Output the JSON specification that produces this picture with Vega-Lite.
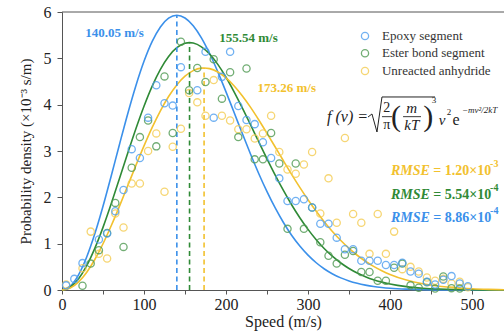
{
  "$schema": "https://vega.github.io/schema/vega-lite/v6.json",
  "width": 442,
  "height": 278,
  "autosize": {"type": "none"},
  "padding": {"left": 62, "top": 12, "right": 0, "bottom": 44},
  "background": "white",
  "config": {"view": {"stroke": null}, "font": "Liberation Serif"},
  "datasets": {
    "fit": [
      {"s":"Epoxy segment","v":0,"f":0},{"s":"Epoxy segment","v":10,"f":0.082},{"s":"Epoxy segment","v":20,"f":0.322},{"s":"Epoxy segment","v":30,"f":0.706},{"s":"Epoxy segment","v":40,"f":1.212},{"s":"Epoxy segment","v":50,"f":1.808},{"s":"Epoxy segment","v":60,"f":2.462},{"s":"Epoxy segment","v":70,"f":3.136},{"s":"Epoxy segment","v":80,"f":3.795},{"s":"Epoxy segment","v":90,"f":4.404},{"s":"Epoxy segment","v":100,"f":4.935},{"s":"Epoxy segment","v":110,"f":5.365},{"s":"Epoxy segment","v":120,"f":5.678},{"s":"Epoxy segment","v":130,"f":5.866},{"s":"Epoxy segment","v":140.05,"f":5.929},{"s":"Epoxy segment","v":150,"f":5.871},{"s":"Epoxy segment","v":160,"f":5.703},{"s":"Epoxy segment","v":170,"f":5.442},{"s":"Epoxy segment","v":180,"f":5.104},{"s":"Epoxy segment","v":190,"f":4.709},{"s":"Epoxy segment","v":200,"f":4.277},{"s":"Epoxy segment","v":210,"f":3.825},{"s":"Epoxy segment","v":220,"f":3.372},{"s":"Epoxy segment","v":230,"f":2.93},{"s":"Epoxy segment","v":240,"f":2.51},{"s":"Epoxy segment","v":250,"f":2.122},{"s":"Epoxy segment","v":260,"f":1.77},{"s":"Epoxy segment","v":270,"f":1.457},{"s":"Epoxy segment","v":280,"f":1.183},{"s":"Epoxy segment","v":290,"f":0.949},{"s":"Epoxy segment","v":300,"f":0.752},{"s":"Epoxy segment","v":310,"f":0.588},{"s":"Epoxy segment","v":320,"f":0.454},{"s":"Epoxy segment","v":330,"f":0.347},{"s":"Epoxy segment","v":340,"f":0.262},{"s":"Epoxy segment","v":350,"f":0.195},{"s":"Epoxy segment","v":360,"f":0.144},{"s":"Epoxy segment","v":370,"f":0.105},{"s":"Epoxy segment","v":380,"f":0.075},{"s":"Epoxy segment","v":390,"f":0.054},{"s":"Epoxy segment","v":400,"f":0.038},{"s":"Epoxy segment","v":420,"f":0.018},{"s":"Epoxy segment","v":440,"f":0.008},{"s":"Epoxy segment","v":470,"f":0.002},{"s":"Epoxy segment","v":500,"f":0.0005},{"s":"Epoxy segment","v":539,"f":0},
      {"s":"Ester bond segment","v":0,"f":0},{"s":"Ester bond segment","v":10,"f":0.06},{"s":"Ester bond segment","v":20,"f":0.236},{"s":"Ester bond segment","v":30,"f":0.52},{"s":"Ester bond segment","v":40,"f":0.898},{"s":"Ester bond segment","v":50,"f":1.352},{"s":"Ester bond segment","v":60,"f":1.861},{"s":"Ester bond segment","v":70,"f":2.4},{"s":"Ester bond segment","v":80,"f":2.946},{"s":"Ester bond segment","v":90,"f":3.476},{"s":"Ester bond segment","v":100,"f":3.967},{"s":"Ester bond segment","v":110,"f":4.401},{"s":"Ester bond segment","v":120,"f":4.763},{"s":"Ester bond segment","v":130,"f":5.041},{"s":"Ester bond segment","v":140,"f":5.229},{"s":"Ester bond segment","v":150,"f":5.324},{"s":"Ester bond segment","v":155.54,"f":5.338},{"s":"Ester bond segment","v":160,"f":5.329},{"s":"Ester bond segment","v":170,"f":5.249},{"s":"Ester bond segment","v":180,"f":5.092},{"s":"Ester bond segment","v":190,"f":4.869},{"s":"Ester bond segment","v":200,"f":4.592},{"s":"Ester bond segment","v":210,"f":4.273},{"s":"Ester bond segment","v":220,"f":3.926},{"s":"Ester bond segment","v":230,"f":3.563},{"s":"Ester bond segment","v":240,"f":3.195},{"s":"Ester bond segment","v":250,"f":2.831},{"s":"Ester bond segment","v":260,"f":2.48},{"s":"Ester bond segment","v":270,"f":2.148},{"s":"Ester bond segment","v":280,"f":1.84},{"s":"Ester bond segment","v":290,"f":1.56},{"s":"Ester bond segment","v":300,"f":1.308},{"s":"Ester bond segment","v":310,"f":1.085},{"s":"Ester bond segment","v":320,"f":0.891},{"s":"Ester bond segment","v":330,"f":0.724},{"s":"Ester bond segment","v":340,"f":0.583},{"s":"Ester bond segment","v":350,"f":0.465},{"s":"Ester bond segment","v":360,"f":0.367},{"s":"Ester bond segment","v":370,"f":0.287},{"s":"Ester bond segment","v":380,"f":0.221},{"s":"Ester bond segment","v":390,"f":0.17},{"s":"Ester bond segment","v":400,"f":0.129},{"s":"Ester bond segment","v":420,"f":0.072},{"s":"Ester bond segment","v":440,"f":0.039},{"s":"Ester bond segment","v":460,"f":0.02},{"s":"Ester bond segment","v":480,"f":0.01},{"s":"Ester bond segment","v":500,"f":0.005},{"s":"Ester bond segment","v":539,"f":0.001},
      {"s":"Unreacted anhydride","v":0,"f":0},{"s":"Unreacted anhydride","v":10,"f":0.043},{"s":"Unreacted anhydride","v":20,"f":0.171},{"s":"Unreacted anhydride","v":30,"f":0.379},{"s":"Unreacted anhydride","v":40,"f":0.658},{"s":"Unreacted anhydride","v":50,"f":0.998},{"s":"Unreacted anhydride","v":60,"f":1.386},{"s":"Unreacted anhydride","v":70,"f":1.806},{"s":"Unreacted anhydride","v":80,"f":2.244},{"s":"Unreacted anhydride","v":90,"f":2.684},{"s":"Unreacted anhydride","v":100,"f":3.11},{"s":"Unreacted anhydride","v":110,"f":3.509},{"s":"Unreacted anhydride","v":120,"f":3.868},{"s":"Unreacted anhydride","v":130,"f":4.176},{"s":"Unreacted anhydride","v":140,"f":4.427},{"s":"Unreacted anhydride","v":150,"f":4.614},{"s":"Unreacted anhydride","v":160,"f":4.735},{"s":"Unreacted anhydride","v":170,"f":4.789},{"s":"Unreacted anhydride","v":173.26,"f":4.792},{"s":"Unreacted anhydride","v":180,"f":4.778},{"s":"Unreacted anhydride","v":190,"f":4.706},{"s":"Unreacted anhydride","v":200,"f":4.579},{"s":"Unreacted anhydride","v":210,"f":4.404},{"s":"Unreacted anhydride","v":220,"f":4.188},{"s":"Unreacted anhydride","v":230,"f":3.941},{"s":"Unreacted anhydride","v":240,"f":3.669},{"s":"Unreacted anhydride","v":250,"f":3.381},{"s":"Unreacted anhydride","v":260,"f":3.086},{"s":"Unreacted anhydride","v":270,"f":2.789},{"s":"Unreacted anhydride","v":280,"f":2.497},{"s":"Unreacted anhydride","v":290,"f":2.216},{"s":"Unreacted anhydride","v":300,"f":1.948},{"s":"Unreacted anhydride","v":310,"f":1.698},{"s":"Unreacted anhydride","v":320,"f":1.467},{"s":"Unreacted anhydride","v":330,"f":1.256},{"s":"Unreacted anhydride","v":340,"f":1.067},{"s":"Unreacted anhydride","v":350,"f":0.898},{"s":"Unreacted anhydride","v":360,"f":0.75},{"s":"Unreacted anhydride","v":370,"f":0.621},{"s":"Unreacted anhydride","v":380,"f":0.51},{"s":"Unreacted anhydride","v":390,"f":0.416},{"s":"Unreacted anhydride","v":400,"f":0.336},{"s":"Unreacted anhydride","v":420,"f":0.215},{"s":"Unreacted anhydride","v":440,"f":0.133},{"s":"Unreacted anhydride","v":460,"f":0.08},{"s":"Unreacted anhydride","v":480,"f":0.046},{"s":"Unreacted anhydride","v":500,"f":0.026},{"s":"Unreacted anhydride","v":520,"f":0.014},{"s":"Unreacted anhydride","v":539,"f":0.007}
    ],
    "pts": [
      {"g":"Unreacted anhydride","v":5,"p":0.12},{"g":"Unreacted anhydride","v":25,"p":0.47},{"g":"Unreacted anhydride","v":35,"p":1.26},{"g":"Unreacted anhydride","v":45,"p":0.78},{"g":"Unreacted anhydride","v":55,"p":0.68},{"g":"Unreacted anhydride","v":65,"p":1.65},{"g":"Unreacted anhydride","v":75,"p":1.35},{"g":"Unreacted anhydride","v":85,"p":2.3},{"g":"Unreacted anhydride","v":95,"p":2.3},{"g":"Unreacted anhydride","v":105,"p":3.0},{"g":"Unreacted anhydride","v":115,"p":3.38},{"g":"Unreacted anhydride","v":125,"p":2.12},{"g":"Unreacted anhydride","v":135,"p":3.09},{"g":"Unreacted anhydride","v":145,"p":3.48},{"g":"Unreacted anhydride","v":155,"p":4.25},{"g":"Unreacted anhydride","v":165,"p":4.05},{"g":"Unreacted anhydride","v":175,"p":3.76},{"g":"Unreacted anhydride","v":185,"p":4.53},{"g":"Unreacted anhydride","v":195,"p":3.76},{"g":"Unreacted anhydride","v":205,"p":3.66},{"g":"Unreacted anhydride","v":215,"p":3.47},{"g":"Unreacted anhydride","v":225,"p":3.47},{"g":"Unreacted anhydride","v":235,"p":3.27},{"g":"Unreacted anhydride","v":245,"p":3.38},{"g":"Unreacted anhydride","v":255,"p":3.76},{"g":"Unreacted anhydride","v":265,"p":2.98},{"g":"Unreacted anhydride","v":275,"p":2.6},{"g":"Unreacted anhydride","v":285,"p":2.51},{"g":"Unreacted anhydride","v":295,"p":2.71},{"g":"Unreacted anhydride","v":305,"p":2.98},{"g":"Unreacted anhydride","v":315,"p":1.65},{"g":"Unreacted anhydride","v":325,"p":2.41},{"g":"Unreacted anhydride","v":335,"p":1.45},{"g":"Unreacted anhydride","v":345,"p":3.28},{"g":"Unreacted anhydride","v":355,"p":1.64},{"g":"Unreacted anhydride","v":365,"p":1.45},{"g":"Unreacted anhydride","v":375,"p":0.78},{"g":"Unreacted anhydride","v":385,"p":1.64},{"g":"Unreacted anhydride","v":395,"p":0.78},{"g":"Unreacted anhydride","v":405,"p":1.26},{"g":"Unreacted anhydride","v":415,"p":0.45},{"g":"Unreacted anhydride","v":425,"p":0.5},{"g":"Unreacted anhydride","v":435,"p":0.4},{"g":"Unreacted anhydride","v":445,"p":0.27},{"g":"Unreacted anhydride","v":455,"p":0.2},{"g":"Unreacted anhydride","v":465,"p":0.24},{"g":"Unreacted anhydride","v":475,"p":0.14},{"g":"Unreacted anhydride","v":485,"p":0.18},{"g":"Unreacted anhydride","v":495,"p":0.06},
      {"g":"Ester bond segment","v":25,"p":0.09},{"g":"Ester bond segment","v":35,"p":0.57},{"g":"Ester bond segment","v":45,"p":0.86},{"g":"Ester bond segment","v":55,"p":1.23},{"g":"Ester bond segment","v":65,"p":1.88},{"g":"Ester bond segment","v":75,"p":0.93},{"g":"Ester bond segment","v":85,"p":2.64},{"g":"Ester bond segment","v":95,"p":3.3},{"g":"Ester bond segment","v":105,"p":3.66},{"g":"Ester bond segment","v":115,"p":3.1},{"g":"Ester bond segment","v":125,"p":4.61},{"g":"Ester bond segment","v":135,"p":3.39},{"g":"Ester bond segment","v":145,"p":5.36},{"g":"Ester bond segment","v":155,"p":4.31},{"g":"Ester bond segment","v":165,"p":4.79},{"g":"Ester bond segment","v":175,"p":4.49},{"g":"Ester bond segment","v":185,"p":4.98},{"g":"Ester bond segment","v":195,"p":4.13},{"g":"Ester bond segment","v":205,"p":4.7},{"g":"Ester bond segment","v":215,"p":3.3},{"g":"Ester bond segment","v":225,"p":4.78},{"g":"Ester bond segment","v":235,"p":2.82},{"g":"Ester bond segment","v":245,"p":2.82},{"g":"Ester bond segment","v":255,"p":3.39},{"g":"Ester bond segment","v":265,"p":2.73},{"g":"Ester bond segment","v":275,"p":1.32},{"g":"Ester bond segment","v":285,"p":2.73},{"g":"Ester bond segment","v":295,"p":1.32},{"g":"Ester bond segment","v":305,"p":1.78},{"g":"Ester bond segment","v":315,"p":1.03},{"g":"Ester bond segment","v":325,"p":0.74},{"g":"Ester bond segment","v":335,"p":0.57},{"g":"Ester bond segment","v":345,"p":0.76},{"g":"Ester bond segment","v":355,"p":0.84},{"g":"Ester bond segment","v":365,"p":0.39},{"g":"Ester bond segment","v":375,"p":0.39},{"g":"Ester bond segment","v":385,"p":0.2},{"g":"Ester bond segment","v":395,"p":0.2},{"g":"Ester bond segment","v":405,"p":0.48},{"g":"Ester bond segment","v":415,"p":0.57},{"g":"Ester bond segment","v":425,"p":0.1},{"g":"Ester bond segment","v":435,"p":0.05},{"g":"Ester bond segment","v":445,"p":0.17},{"g":"Ester bond segment","v":455,"p":0.03},{"g":"Ester bond segment","v":465,"p":0.29},{"g":"Ester bond segment","v":475,"p":0.04},{"g":"Ester bond segment","v":485,"p":0.03},
      {"g":"Epoxy segment","v":5,"p":0.1},{"g":"Epoxy segment","v":15,"p":0.24},{"g":"Epoxy segment","v":25,"p":0.58},{"g":"Epoxy segment","v":45,"p":1.09},{"g":"Epoxy segment","v":55,"p":1.22},{"g":"Epoxy segment","v":65,"p":1.7},{"g":"Epoxy segment","v":75,"p":2.16},{"g":"Epoxy segment","v":85,"p":3.04},{"g":"Epoxy segment","v":95,"p":2.85},{"g":"Epoxy segment","v":105,"p":3.72},{"g":"Epoxy segment","v":115,"p":4.42},{"g":"Epoxy segment","v":125,"p":4.03},{"g":"Epoxy segment","v":135,"p":3.98},{"g":"Epoxy segment","v":145,"p":4.81},{"g":"Epoxy segment","v":165,"p":4.31},{"g":"Epoxy segment","v":175,"p":5.14},{"g":"Epoxy segment","v":185,"p":3.72},{"g":"Epoxy segment","v":195,"p":4.6},{"g":"Epoxy segment","v":205,"p":5.14},{"g":"Epoxy segment","v":215,"p":3.97},{"g":"Epoxy segment","v":225,"p":3.67},{"g":"Epoxy segment","v":235,"p":3.58},{"g":"Epoxy segment","v":245,"p":3.19},{"g":"Epoxy segment","v":255,"p":2.85},{"g":"Epoxy segment","v":265,"p":2.41},{"g":"Epoxy segment","v":275,"p":1.92},{"g":"Epoxy segment","v":285,"p":1.92},{"g":"Epoxy segment","v":295,"p":1.96},{"g":"Epoxy segment","v":305,"p":1.78},{"g":"Epoxy segment","v":315,"p":1.43},{"g":"Epoxy segment","v":325,"p":1.43},{"g":"Epoxy segment","v":335,"p":1.13},{"g":"Epoxy segment","v":345,"p":0.88},{"g":"Epoxy segment","v":355,"p":0.88},{"g":"Epoxy segment","v":365,"p":0.63},{"g":"Epoxy segment","v":375,"p":0.63},{"g":"Epoxy segment","v":385,"p":0.63},{"g":"Epoxy segment","v":395,"p":0.54},{"g":"Epoxy segment","v":405,"p":0.54},{"g":"Epoxy segment","v":415,"p":0.59},{"g":"Epoxy segment","v":425,"p":0.4},{"g":"Epoxy segment","v":435,"p":0.35},{"g":"Epoxy segment","v":445,"p":0.18},{"g":"Epoxy segment","v":455,"p":0.12},{"g":"Epoxy segment","v":465,"p":0.22},{"g":"Epoxy segment","v":475,"p":0.3},{"g":"Epoxy segment","v":485,"p":0.14},{"g":"Epoxy segment","v":495,"p":0.08}
    ],
    "key": [
      {"g":"Epoxy segment","kx":369.5,"tx":390.2,"ky":5.482},
      {"g":"Ester bond segment","kx":369.5,"tx":390.2,"ky":5.109},
      {"g":"Unreacted anhydride","kx":369.5,"tx":390.2,"ky":4.727}
    ],
    "peaks": [
      {"s":"Epoxy segment","v":140.05,"bot":0,"top":5.929,"t":"140.05 m/s","lv":64.0,"ly":5.547,"rx":401.2,"qx":452.8,"ex":522,"r":"= 8.86×10","e":"-4","ry":1.548,"ey":1.705},
      {"s":"Ester bond segment","v":155.54,"bot":0,"top":5.338,"t":"155.54 m/s","lv":227.4,"ly":5.433,"rx":401.2,"qx":452.8,"ex":522,"r":"= 5.54×10","e":"-4","ry":2.05,"ey":2.202},
      {"s":"Unreacted anhydride","v":173.26,"bot":0,"top":4.792,"t":"173.26 m/s","lv":274.0,"ly":4.367,"rx":401.2,"qx":452.8,"ex":522,"r":"= 1.20×10","e":"-3","ry":2.574,"ey":2.726}
    ],
    "frame": [{"a":0,"b":539,"y":6}],
    "radical": [
      {"o":1,"v":373.2,"y":3.734},{"o":2,"v":378.0,"y":3.799},{"o":3,"v":384.1,"y":3.41},{"o":4,"v":390.2,"y":4.166},{"o":5,"v":454.9,"y":4.166}
    ],
    "bars": [{"v":390.2,"v2":402.4,"y":3.741},{"v":415.9,"v2":437.8,"y":3.741}],
    "f_italic16": [{"v":323.2,"y":3.734,"t":"f (v) ="}],
    "f_up15": [{"v":396.0,"y":3.922,"t":"2"},{"v":396.0,"y":3.561,"t":"π"}],
    "f_it15": [{"v":426.5,"y":3.922,"t":"m"},{"v":426.5,"y":3.561,"t":"kT"},{"v":463.4,"y":3.669,"t":"v"}],
    "f_paren": [{"v":407.3,"y":3.734,"t":"("},{"v":446.7,"y":3.734,"t":")"}],
    "f_small": [{"v":453.7,"y":4.101,"t":"3"},{"v":471.9,"y":3.842,"t":"2"}],
    "f_e": [{"v":480.5,"y":3.669,"t":"e"}],
    "f_exp": [{"v":487.8,"y":3.885,"t":"−mv²/2kT"}]
  },
  "layer": [
    {
      "data": {"name": "fit"},
      "mark": {"type": "line", "interpolate": "monotone", "strokeWidth": 1.6},
      "encoding": {
        "x": {"field": "v", "type": "quantitative",
          "scale": {"domain": [0, 539], "nice": false, "zero": false},
          "axis": {"values": [0,50,100,150,200,250,300,350,400,450,500],
            "labelExpr": "datum.value % 100 === 0 ? format(datum.value, 'd') : ''",
            "title": "Speed (m/s)", "grid": false, "tickSize": 4, "labelOverlap": false,
            "domainColor": "#555", "tickColor": "#555", "labelColor": "#222",
            "labelFont": "Liberation Serif", "labelFontSize": 16, "labelPadding": 2, "labelFlush": false,
            "titleFont": "Liberation Serif", "titleFontSize": 16, "titleFontWeight": "normal", "titleColor": "#222",
            "titlePadding": 1, "titleX": 221}},
        "y": {"field": "f", "type": "quantitative",
          "scale": {"domain": [0, 6], "nice": false},
          "axis": {"values": [0,0.5,1,1.5,2,2.5,3,3.5,4,4.5,5,5.5,6],
            "labelExpr": "datum.value % 1 === 0 ? format(datum.value, 'd') : ''",
            "title": "Probability density (×10⁻³ s/m)", "grid": false, "tickSize": 5, "labelOverlap": false,
            "domainColor": "#555", "tickColor": "#555", "labelColor": "#222",
            "labelFont": "Liberation Serif", "labelFontSize": 16, "labelPadding": 6,
            "titleFont": "Liberation Serif", "titleFontSize": 15, "titleFontWeight": "normal", "titleColor": "#222",
            "titlePadding": 10}},
        "color": {"field": "s", "type": "nominal", "legend": null,
          "scale": {"domain": ["Epoxy segment", "Ester bond segment", "Unreacted anhydride"], "range": ["#3b90ea", "#2f8a36", "#f2c12e"]}}
      }
    },
    {
      "data": {"name": "frame"},
      "mark": {"type": "rule", "color": "#555", "strokeWidth": 1},
      "encoding": {"x": {"field": "a", "type": "quantitative"}, "x2": {"field": "b"}, "y": {"field": "y", "type": "quantitative"}}
    },
    {
      "data": {"name": "peaks"},
      "mark": {"type": "rule", "strokeDash": [5, 3.5], "strokeWidth": 1.6},
      "encoding": {
        "x": {"field": "v", "type": "quantitative"},
        "y": {"field": "bot", "type": "quantitative"},
        "y2": {"field": "top"},
        "color": {"field": "s", "type": "nominal", "legend": null}
      }
    },
    {
      "data": {"name": "pts"},
      "mark": {"type": "point", "shape": "circle", "filled": false, "size": 52, "strokeWidth": 1.3, "opacity": 0.8},
      "encoding": {
        "x": {"field": "v", "type": "quantitative"},
        "y": {"field": "p", "type": "quantitative"},
        "stroke": {"field": "g", "type": "nominal", "legend": null,
          "scale": {"domain": ["Epoxy segment", "Ester bond segment", "Unreacted anhydride"], "range": ["#4f9ff0", "#4f9a52", "#f5cd52"]}}
      }
    },
    {
      "data": {"name": "key"},
      "mark": {"type": "point", "shape": "circle", "filled": false, "size": 52, "strokeWidth": 1.3, "opacity": 0.8},
      "encoding": {
        "x": {"field": "kx", "type": "quantitative"},
        "y": {"field": "ky", "type": "quantitative"},
        "stroke": {"field": "g", "type": "nominal", "legend": null}
      }
    },
    {
      "data": {"name": "key"},
      "mark": {"type": "text", "font": "Liberation Serif", "fontSize": 13, "align": "left", "baseline": "middle", "color": "#333"},
      "encoding": {
        "x": {"field": "tx", "type": "quantitative"},
        "y": {"field": "ky", "type": "quantitative"},
        "text": {"field": "g", "type": "nominal"}
      }
    },
    {
      "data": {"name": "peaks"},
      "mark": {"type": "text", "font": "Liberation Serif", "fontWeight": "bold", "fontSize": 13, "align": "center", "baseline": "middle"},
      "encoding": {
        "x": {"field": "lv", "type": "quantitative"},
        "y": {"field": "ly", "type": "quantitative"},
        "text": {"field": "t", "type": "nominal"},
        "color": {"field": "s", "type": "nominal", "legend": null}
      }
    },
    {
      "data": {"name": "peaks"},
      "mark": {"type": "text", "font": "Liberation Serif", "fontWeight": "bold", "fontStyle": "italic", "fontSize": 14, "align": "left", "baseline": "middle", "text": "RMSE"},
      "encoding": {
        "x": {"field": "rx", "type": "quantitative"},
        "y": {"field": "ry", "type": "quantitative"},
        "color": {"field": "s", "type": "nominal", "legend": null}
      }
    },
    {
      "data": {"name": "peaks"},
      "mark": {"type": "text", "font": "Liberation Serif", "fontWeight": "bold", "fontSize": 14, "align": "left", "baseline": "middle"},
      "encoding": {
        "x": {"field": "qx", "type": "quantitative"},
        "y": {"field": "ry", "type": "quantitative"},
        "text": {"field": "r", "type": "nominal"},
        "color": {"field": "s", "type": "nominal", "legend": null}
      }
    },
    {
      "data": {"name": "peaks"},
      "mark": {"type": "text", "font": "Liberation Serif", "fontWeight": "bold", "fontSize": 10, "align": "left", "baseline": "middle"},
      "encoding": {
        "x": {"field": "ex", "type": "quantitative"},
        "y": {"field": "ey", "type": "quantitative"},
        "text": {"field": "e", "type": "nominal"},
        "color": {"field": "s", "type": "nominal", "legend": null}
      }
    },
    {
      "data": {"name": "radical"},
      "mark": {"type": "line", "color": "#222", "strokeWidth": 1},
      "encoding": {"x": {"field": "v", "type": "quantitative"}, "y": {"field": "y", "type": "quantitative"}, "order": {"field": "o", "type": "quantitative"}}
    },
    {
      "data": {"name": "bars"},
      "mark": {"type": "rule", "color": "#222", "strokeWidth": 0.9},
      "encoding": {"x": {"field": "v", "type": "quantitative"}, "x2": {"field": "v2"}, "y": {"field": "y", "type": "quantitative"}}
    },
    {
      "data": {"name": "f_italic16"},
      "mark": {"type": "text", "font": "Liberation Serif", "fontStyle": "italic", "fontSize": 16, "align": "left", "baseline": "middle", "color": "#222"},
      "encoding": {"x": {"field": "v", "type": "quantitative"}, "y": {"field": "y", "type": "quantitative"}, "text": {"field": "t", "type": "nominal"}}
    },
    {
      "data": {"name": "f_up15"},
      "mark": {"type": "text", "font": "Liberation Serif", "fontSize": 14, "align": "center", "baseline": "middle", "color": "#222"},
      "encoding": {"x": {"field": "v", "type": "quantitative"}, "y": {"field": "y", "type": "quantitative"}, "text": {"field": "t", "type": "nominal"}}
    },
    {
      "data": {"name": "f_it15"},
      "mark": {"type": "text", "font": "Liberation Serif", "fontStyle": "italic", "fontSize": 15, "align": "center", "baseline": "middle", "color": "#222"},
      "encoding": {"x": {"field": "v", "type": "quantitative"}, "y": {"field": "y", "type": "quantitative"}, "text": {"field": "t", "type": "nominal"}}
    },
    {
      "data": {"name": "f_paren"},
      "mark": {"type": "text", "font": "Liberation Serif", "fontSize": 30, "align": "center", "baseline": "middle", "color": "#222"},
      "encoding": {"x": {"field": "v", "type": "quantitative"}, "y": {"field": "y", "type": "quantitative"}, "text": {"field": "t", "type": "nominal"}}
    },
    {
      "data": {"name": "f_small"},
      "mark": {"type": "text", "font": "Liberation Serif", "fontSize": 9, "align": "center", "baseline": "middle", "color": "#222"},
      "encoding": {"x": {"field": "v", "type": "quantitative"}, "y": {"field": "y", "type": "quantitative"}, "text": {"field": "t", "type": "nominal"}}
    },
    {
      "data": {"name": "f_e"},
      "mark": {"type": "text", "font": "Liberation Serif", "fontSize": 16, "align": "center", "baseline": "middle", "color": "#222"},
      "encoding": {"x": {"field": "v", "type": "quantitative"}, "y": {"field": "y", "type": "quantitative"}, "text": {"field": "t", "type": "nominal"}}
    },
    {
      "data": {"name": "f_exp"},
      "mark": {"type": "text", "font": "Liberation Serif", "fontStyle": "italic", "fontSize": 9, "align": "left", "baseline": "middle", "color": "#222"},
      "encoding": {"x": {"field": "v", "type": "quantitative"}, "y": {"field": "y", "type": "quantitative"}, "text": {"field": "t", "type": "nominal"}}
    }
  ]
}
